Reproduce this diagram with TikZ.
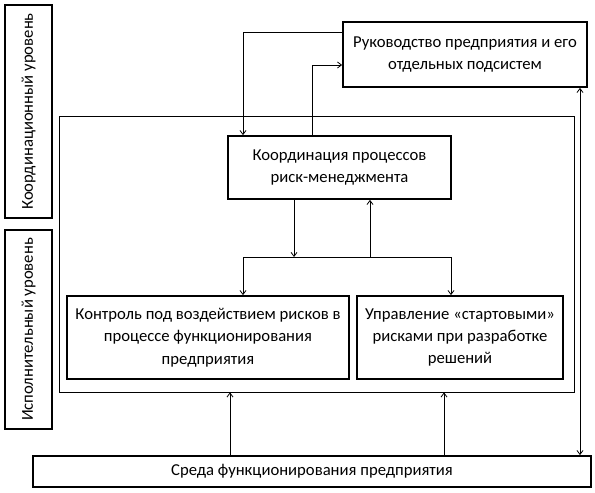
\documentclass[tikz,border=0pt]{standalone}
\usepackage{fontspec}
\setmainfont{Carlito}
\usepackage{tikz}
\usetikzlibrary{calc,arrows.meta}

\begin{document}
\begin{tikzpicture}[x=0.75pt,y=-0.75pt,
  blok/.style={draw, line width=1.3pt, align=center, inner sep=2pt,
    font=\fontsize{12.5}{16.8}\selectfont},
  uroven/.style={blok, rotate=90, minimum height=35.25pt},
  ramka/.style={draw, line width=0.6pt},
  arr/.style={line width=0.6pt, -{Straight Barb[length=3pt,width=4.5pt]}},
  arrr/.style={line width=0.6pt, {Straight Barb[length=3pt,width=4.5pt]}-{Straight Barb[length=3pt,width=4.5pt]}}]
\useasboundingbox (0,0) rectangle (595,492);
\node[uroven, minimum width=159.75pt] (ur1) at (28.5,111.5) {Координационный уровень};
\node[uroven, minimum width=149.25pt] (ur2) at (28.5,329.5) {Исполнительный уровень};
\node[ramka, minimum width=386.25pt, minimum height=207pt] (ramka) at (316.5,254) {};
\node[blok, minimum width=183pt, minimum height=48.75pt] (ruk) at (465,54.5)
  {Руководство предприятия и его\\ отдельных подсистем};
\node[blok, minimum width=167.25pt, minimum height=47.25pt] (koord) at (339.5,167.5)
  {Координация процессов\\ риск-менеджмента};
\node[blok, minimum width=211.5pt, minimum height=62.25pt] (kontrol) at (208,337.5)
  {Контроль под воздействием рисков в\\ процессе функционирования\\ предприятия};
\node[blok, minimum width=154.5pt, minimum height=62.25pt] (upr) at (460,337.5)
  {Управление «стартовыми»\\ рисками при разработке\\ решений};
\node[blok, minimum width=418.5pt, minimum height=23.25pt] (sreda) at (312,471.5)
  {Среда функционирования предприятия};
\coordinate (vetv) at (370,257);
\draw[arr] (ruk.west |- 0,32) -| (koord.north -| 243,0);
\draw[arr] (koord.north -| 312,0) |- (ruk.west |- 0,65);
\draw[arr] (koord.south -| 294,0) -- (vetv -| 294,0);
\draw[arr] (vetv) -| (kontrol.north -| 243,0);
\draw[arr] (vetv) -| (upr.north -| 451,0);
\draw[arr] (vetv) -- (koord.south -| vetv);
\draw[arr] (sreda.north -| 230,0) -- (ramka.south -| 230,0);
\draw[arr] (sreda.north -| 444,0) -- (ramka.south -| 444,0);
\draw[arrr] (ruk.south -| 580,0) -- (sreda.north -| 580,0);
\end{tikzpicture}
\end{document}
